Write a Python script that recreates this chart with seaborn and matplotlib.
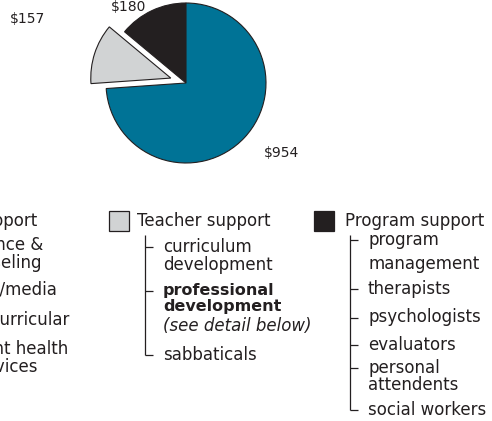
import matplotlib
matplotlib.use("Agg")
import matplotlib.pyplot as plt
import seaborn as sns

# spending by category (pie order: counterclockwise from the top)
categories = ["Program support", "Teacher support", "Student support"]
amounts = [180, 157, 954]
colors = ["#231f20", "#d1d3d4", "#007396"]
explode = [0.0, 0.2, 0.0]

# label positions (in pie radius units) for the dollar amounts
label_pos = [(-0.72, 0.95), (-1.98, 0.80), (1.20, -0.87)]

student_items = ["Student support", "guidance &\ncounseling", "library/media",
                 "extracurricular", "student health\nservices"]
teacher_items = ["curriculum\ndevelopment", "professional\ndevelopment",
                 "sabbaticals"]
program_items = ["program\nmanagement", "therapists", "psychologists",
                 "evaluators", "personal\nattendents", "social workers"]

sns.set_style("white")
plt.rcParams["font.family"] = ["DejaVu Sans"]
ink = "#231f20"
fs = 12

W, H = 492, 421
fig = plt.figure(figsize=(W / 100, H / 100), dpi=100)

# pie chart
cx, cy, r = 186, 83, 80
ax = fig.add_axes([(cx - r) / W, (H - cy - r) / H, 2 * r / W, 2 * r / H])
wedges, _ = ax.pie(amounts, colors=colors, explode=explode, startangle=90,
                   counterclock=True,
                   wedgeprops=dict(edgecolor=ink, linewidth=0.8))
for w in wedges:
    w.set_clip_on(False)
for val, (px_, py_) in zip(amounts, label_pos):
    ax.text(px_, py_, f"${val:,}", ha="center", va="center", fontsize=10,
            color=ink, clip_on=False)
ax.set_xlim(-1, 1)
ax.set_ylim(-1, 1)
ax.set_aspect("equal")
ax.axis("off")

# breakdown area drawn in pixel coordinates
lx = fig.add_axes([0, 0, 1, 1])
lx.set_xlim(0, W)
lx.set_ylim(H, 0)
lx.axis("off")


def put(x, y, s, ha="left", size=fs, **kw):
    lx.text(x, y, s, ha=ha, va="center", fontsize=size, color=ink, **kw)


def legend_box(x, y, color):
    lx.add_patch(plt.Rectangle((x, y - 10), 20, 20, facecolor=color,
                               edgecolor=ink, linewidth=0.9))


def tree(x, top, ys):
    lx.plot([x, x], [top, ys[-1]], color=ink, lw=0.9, solid_capstyle="butt")
    for y in ys:
        lx.plot([x, x + 8], [y, y], color=ink, lw=0.9, solid_capstyle="butt")


# student support column (cut off at the left edge)
student_lines = [(37, 221), (43, 245), (42, 263), (57, 290),
                 (69, 320), (68, 349), (38, 367)]
flat = [ln for item in student_items for ln in item.split("\n")]
for s, (xr, y) in zip(flat, student_lines):
    put(xr, y, s, ha="right")

# teacher support
legend_box(109, 221, colors[1])
put(137, 221, categories[1])
tree(145, 235, [247, 291, 355])
tl = 163
cur, dev = teacher_items[0].split("\n")
put(tl, 247, cur)
put(tl, 265, dev)
pro, dev2 = teacher_items[1].split("\n")
put(tl, 290, pro, size=11.5, fontweight="bold")
put(tl, 307, dev2, size=11.5, fontweight="bold")
put(tl, 326, "(see detail below)", style="italic")
put(tl, 355, teacher_items[2])

# program support
legend_box(314, 221, colors[0])
put(345, 221, categories[0])
tree(350, 235, [240, 289, 318, 345, 368, 410])
pl = 368
program_lines = [240, 264, 289, 317, 345, 368, 385, 410]
flat = [ln for item in program_items for ln in item.split("\n")]
for s, y in zip(flat, program_lines):
    put(pl, y, s)

fig.savefig("out.png", dpi=100, facecolor="white")
